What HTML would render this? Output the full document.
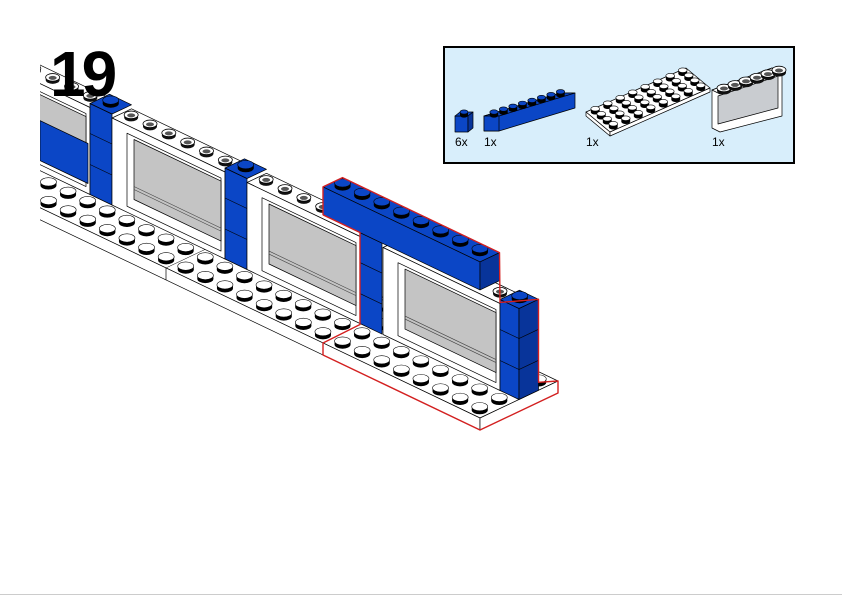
<!DOCTYPE html>
<html><head><meta charset="utf-8">
<style>
html,body{margin:0;padding:0;background:#fff;}
#wrap{position:relative;width:842px;height:596px;overflow:hidden;background:#fff;}
svg{position:absolute;left:0;top:0;}
.num{position:absolute;left:50px;top:37px;font:bold 64px "Liberation Sans",sans-serif;color:#000;letter-spacing:-4px;}
.lbl{font-family:"Liberation Sans",sans-serif;font-size:12px;fill:#000;}
</style></head>
<body><div id="wrap">
<svg id="s" width="842" height="596" viewBox="0 0 842 596">
<defs><clipPath id="cl"><rect x="40" y="0" width="802" height="596"/></clipPath></defs>
<g id="model" clip-path="url(#cl)"></g>
<rect x="444" y="47" width="350" height="116" fill="#d8eefb" stroke="#000" stroke-width="2"/>
<g id="parts"></g>
<text class="lbl" x="455" y="146">6x</text>
<text class="lbl" x="484" y="146">1x</text>
<text class="lbl" x="586" y="146">1x</text>
<text class="lbl" x="712" y="146">1x</text>
<line x1="0" y1="594.5" x2="842" y2="594.5" stroke="#ccc" stroke-width="1"/>
</svg>
<div class="num">19</div>
</div>
<script>
var B='#0b46c6',BD='#08349a',K='#000';
function P(pts,f,sw,sc){return '<polygon points="'+pts.map(function(p){return p[0].toFixed(1)+','+p[1].toFixed(1)}).join(' ')+'" fill="'+f+'" stroke="'+(sc||K)+'" stroke-width="'+(sw==null?0.7:sw)+'" stroke-linejoin="round"/>';}
function stud(x,y,f,r){r=r||8;var s='<ellipse cx="'+x+'" cy="'+(y+3.5)+'" rx="'+r+'" ry="'+(r*0.52)+'" fill="#000"/>';
s+='<rect x="'+(x-r)+'" y="'+y+'" width="'+(2*r)+'" height="3.5" fill="#000"/>';
s+='<ellipse cx="'+x+'" cy="'+y+'" rx="'+r+'" ry="'+(r*0.52)+'" fill="'+f+'" stroke="#000" stroke-width="0.6"/>';return s;}
function gstud(x,y){return '<ellipse cx="'+x+'" cy="'+(y+2.5)+'" rx="7" ry="4" fill="#111"/><ellipse cx="'+x+'" cy="'+y+'" rx="7" ry="3.8" fill="#fff" stroke="#000" stroke-width="0.8"/><ellipse cx="'+x+'" cy="'+(y+0.5)+'" rx="4" ry="2" fill="#555"/>';}
var U=[19.6,9.37],V=[19.5,-9.25],O=[323,343];
function Bl(x){return 324.5+0.478*(x-362);}
function fy(x){return 343+0.478*(x-323);}
var g='';
var xl=-100;
g+=P([[xl,fy(xl)],[480,418],[558,381],[xl+78,fy(xl)-37]],'#fff');
g+=P([[xl,fy(xl)],[480,418],[480,430],[xl,fy(xl)+12]],'#fff');
g+=P([[480,418],[558,381],[558,393],[480,430]],'#fff');
g+='<line x1="166" y1="'+fy(166)+'" x2="166" y2="'+(fy(166)+12)+'" stroke="#000" stroke-width="0.7"/>';
g+='<line x1="323" y1="343" x2="323" y2="355" stroke="#000" stroke-width="0.7"/>';
g+='<line x1="166" y1="'+fy(166)+'" x2="'+(166+78)+'" y2="'+(fy(166)-37)+'" stroke="#000" stroke-width="0.5"/>';
function sc(i,j){return [O[0]+(i+0.5)*U[0]+(j+0.5)*V[0],O[1]+(i+0.5)*U[1]+(j+0.5)*V[1]];}
for(var j=3;j>=2;j--)for(var i=-16;i<8;i++){var c=sc(i,j);g+=stud(c[0],c[1]-2,'#fff');}
function face(x1,x2,top,bot,f,sw){return P([[x1,Bl(x1)-top],[x2,Bl(x2)-top],[x2,Bl(x2)-bot],[x1,Bl(x1)-bot]],f,sw);}
function column(xc){var x2=xc+22,s='';
 s+=face(xc,x2,91,0,B);
 s+='<line x1="'+xc+'" y1="'+(Bl(xc)-30)+'" x2="'+x2+'" y2="'+(Bl(x2)-30)+'" stroke="#000" stroke-width="0.6"/>';
 s+='<line x1="'+xc+'" y1="'+(Bl(xc)-61)+'" x2="'+x2+'" y2="'+(Bl(x2)-61)+'" stroke="#000" stroke-width="0.6"/>';
 s+=P([[xc,Bl(xc)-91],[x2,Bl(x2)-91],[x2+V[0],Bl(x2)-91+V[1]],[xc+V[0],Bl(xc)-91+V[1]]],B);
 s+=stud(xc+11+V[0]/2,Bl(xc+11)-91+V[1]/2-4,B);return s;}
function windowF(x1,x2,studs){var s='';
 s+=P([[x1,Bl(x1)-87],[x2,Bl(x2)-87],[x2+V[0],Bl(x2)-87+V[1]],[x1+V[0],Bl(x1)-87+V[1]]],'#fff');
 s+=face(x1,x2,87,0,'#fff');
 s+=P([[x1+15,Bl(x1+15)-79],[x2-4,Bl(x2-4)-79],[x2-4,Bl(x2-4)-6],[x1+15,Bl(x1+15)-6]],'#fff');
 s+=P([[x1+22,Bl(x1+22)-76],[x2-4,Bl(x2-4)-76],[x2-4,Bl(x2-4)-16],[x1+22,Bl(x1+22)-16]],'#c4c4c4');
 s+='<line x1="'+(x1+22)+'" y1="'+(Bl(x1+22)-26)+'" x2="'+(x2-4)+'" y2="'+(Bl(x2-4)-26)+'" stroke="#444" stroke-width="0.6"/>';
 s+='<line x1="'+(x1+22)+'" y1="'+(Bl(x1+22)-29)+'" x2="'+(x2-4)+'" y2="'+(Bl(x2-4)-29)+'" stroke="#444" stroke-width="0.6"/>';
 if(studs)for(var k=0;k<6;k++){var x=x1+(k+0.5)*(x2-x1)/6+V[0]/2;g2+=gstud(x,Bl(x-V[0]/2)-87+V[1]/2-3);}
 return s;}
var g2='';
g+=windowF(-23,90,true);
g+=P([[40,Bl(40)-50],[88,Bl(88)-50],[88,Bl(88)-10],[40,Bl(40)-10]],B);
g+=column(90);
g+=windowF(112,225,true);g+=g2;g2='';
g+=column(225);
g+=windowF(247,360,true);g+=g2;g2='';
g+=column(360);
g+=windowF(383,500,true);g+=g2;g2='';
var bt=function(x){return Bl(x)-119},bb=function(x){return Bl(x)-91};
g+=P([[323,bt(323)],[480,bt(480)],[480+V[0],bt(480)+V[1]],[323+V[0],bt(323)+V[1]]],B);
g+=P([[323,bt(323)],[480,bt(480)],[480,bb(480)],[323,bb(323)]],B);
g+=P([[480,bt(480)],[480+V[0],bt(480)+V[1]],[480+V[0],bb(480)+V[1]],[480,bb(480)]],BD);
for(var k=0;k<8;k++){var x=323+(k+0.5)*157/8+V[0]/2;g+=stud(x,bt(x-V[0]/2)+V[1]/2-4,B);}
var xa=500,xb=519;
g+=P([[xa,Bl(xa)-91],[xb,Bl(xb)-91],[xb,Bl(xb)],[xa,Bl(xa)]],B);
g+=P([[xb,Bl(xb)-91],[xb+V[0],Bl(xb)-91+V[1]],[xb+V[0],Bl(xb)+V[1]],[xb,Bl(xb)]],BD);
g+=P([[xa,Bl(xa)-91],[xb,Bl(xb)-91],[xb+V[0],Bl(xb)-91+V[1]],[xa+V[0],Bl(xa)-91+V[1]]],B);
[30,61].forEach(function(h){g+='<polyline points="'+xa+','+(Bl(xa)-h)+' '+xb+','+(Bl(xb)-h)+' '+(xb+V[0])+','+(Bl(xb)-h+V[1])+'" fill="none" stroke="#000" stroke-width="0.6"/>';});
g+=stud(xa+10+V[0]/2,Bl(xa+10)-91+V[1]/2-4,B);
for(var j=1;j>=0;j--)for(var i=-16;i<8;i++){var c=sc(i,j);g+=stud(c[0],c[1]-2,'#fff');}
var R='#d42020';
g+='<polyline points="323,'+bb(323)+' 323,'+bt(323)+' '+(323+V[0])+','+(bt(323)+V[1])+' '+(480+V[0])+','+(bt(480)+V[1])+' '+(500)+','+(bb(500)+3)+' '+(xb+V[0])+','+(Bl(xb)-91+V[1])+' '+(xb+V[0])+','+(Bl(xb)+V[1]-8)+' 558,381 558,393 480,430 323,355 323,343 360,'+(Bl(360)+1)+' 360,'+bb(360)+' 323,'+bb(323)+'" fill="none" stroke="'+R+'" stroke-width="1.4" stroke-linejoin="round"/>';
document.getElementById('model').innerHTML=g;
var p='';
p+=P([[455,116],[468,116],[468,132],[455,132]],B)+P([[455,116],[468,116],[473,112],[460,112]],B)+P([[468,116],[473,112],[473,128],[468,132]],BD)+stud(464,112,B,4);
p+=P([[484,116],[560,93],[575,93],[575,108],[499,131],[484,131]],B,0.7);
p+=P([[484,116],[499,116],[575,93],[560,93]],B);p+=P([[484,116],[499,116],[499,131],[484,131]],B);
for(var k=0;k<8;k++)p+=stud(494+k*9.5,112-k*2.9,B,4.2);
var A0=[586,112],L=[12.5,-5.5],S=[6,5];
p+=P([A0,[A0[0]+8*L[0],A0[1]+8*L[1]],[A0[0]+8*L[0]+4*S[0],A0[1]+8*L[1]+4*S[1]],[A0[0]+4*S[0],A0[1]+4*S[1]]],'#fff');
p+=P([[A0[0],A0[1]],[A0[0]+4*S[0],A0[1]+4*S[1]],[A0[0]+4*S[0],A0[1]+4*S[1]+4],[A0[0],A0[1]+4]],'#fff');
p+=P([[A0[0]+4*S[0],A0[1]+4*S[1]],[A0[0]+8*L[0]+4*S[0],A0[1]+8*L[1]+4*S[1]],[A0[0]+8*L[0]+4*S[0],A0[1]+8*L[1]+4*S[1]+4],[A0[0]+4*S[0],A0[1]+4*S[1]+4]],'#fff');
for(var b=7;b>=0;b--)for(var a=0;a<4;a++){p+=stud(A0[0]+(b+.5)*L[0]+(a+.5)*S[0],A0[1]+(b+.5)*L[1]+(a+.5)*S[1]-3,'#fff',4.4);}
p+=P([[712,90],[772,68],[782,72],[782,116],[720,132],[712,128]],'#fff');
p+=P([[712,90],[720,94],[782,72],[772,68]],'#fff');
p+=P([[718,96],[778,76],[778,108],[718,124]],'#c9ccd0');
for(var k=0;k<6;k++)p+=gstud(724+k*11,88-k*3.6);
document.getElementById('parts').innerHTML=p;
</script>
</body></html>
